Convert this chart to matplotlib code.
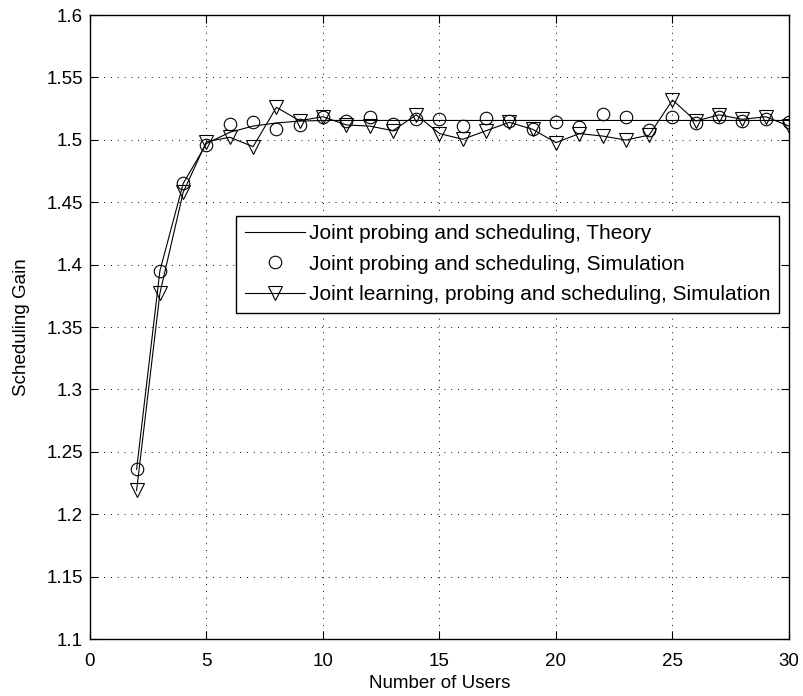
import matplotlib
matplotlib.use("Agg")
import matplotlib.pyplot as plt
from matplotlib.ticker import FuncFormatter

plt.rcParams['font.family'] = ['Liberation Sans', 'DejaVu Sans']

# number of users
users = list(range(2, 31))

# theory curve
theory = [1.236, 1.395, 1.465, 1.497, 1.506, 1.511, 1.5135, 1.515, 1.5155,
          1.5155, 1.5155, 1.5155, 1.5155, 1.5155, 1.5155, 1.5155, 1.5155,
          1.5155, 1.5155, 1.5155, 1.5155, 1.5155, 1.5155, 1.5155, 1.5155,
          1.5155, 1.5155, 1.5155, 1.5155]

# joint probing and scheduling, simulation (circles)
sim_probe = [1.236, 1.395, 1.465, 1.496, 1.513, 1.5145, 1.509, 1.512, 1.518,
             1.515, 1.5185, 1.5124, 1.5164, 1.5164, 1.5113, 1.5172, 1.5153,
             1.5087, 1.514, 1.5105, 1.5204, 1.5185, 1.5079, 1.5185, 1.5132,
             1.518, 1.5153, 1.517, 1.5145]

# joint learning, probing and scheduling, simulation (triangles)
sim_learn = [1.219, 1.377, 1.458, 1.4985, 1.502, 1.4945, 1.526, 1.5153, 1.5185,
             1.5119, 1.511, 1.5073, 1.520, 1.505, 1.5004, 1.5073, 1.514,
             1.5084, 1.4977, 1.505, 1.503, 1.4998, 1.5038, 1.5319, 1.515,
             1.520, 1.5164, 1.5185, 1.511]

xticks = [0, 5, 10, 15, 20, 25, 30]
yticks = [1.1, 1.15, 1.2, 1.25, 1.3, 1.35, 1.4, 1.45, 1.5, 1.55, 1.6]

fig = plt.figure(figsize=(8.04, 6.96), dpi=100)
ax = fig.add_axes([90 / 804, 57 / 696, 699 / 804, 624 / 696])

ax.plot(users, theory, color='black', lw=0.8,
        label='Joint probing and scheduling, Theory')
ax.plot(users, sim_probe, ls='none', marker='o', ms=9, mfc='none', mec='black',
        mew=0.8, label='Joint probing and scheduling, Simulation')
ax.plot(users, sim_learn, color='black', lw=0.8, marker='v', ms=10, mfc='none',
        mec='black', mew=0.8,
        label='Joint learning, probing and scheduling, Simulation')

ax.set_xlim(0, 30)
ax.set_ylim(1.1, 1.6)
ax.set_xticks(xticks)
ax.set_yticks(yticks)
ax.yaxis.set_major_formatter(FuncFormatter(lambda v, p: '%g' % round(v, 2)))
ax.tick_params(direction='in', top=True, right=True, length=6, width=0.8,
               labelsize=13.5, pad=5)
ax.tick_params(axis='x', pad=10)
for s in ax.spines.values():
    s.set_linewidth(1.0)
ax.grid(True, color='black', ls=(0, (1, 6)), lw=0.7)

ax.set_xlabel('Number of Users', fontsize=13.5, labelpad=4)
ax.set_ylabel('Scheduling Gain', fontsize=13.5, labelpad=12)

leg = ax.legend(loc='upper right', bbox_to_anchor=(0.986, 0.678), fontsize=15,
                frameon=True, fancybox=False, edgecolor='black', framealpha=1,
                handlelength=2.9, handletextpad=0.2, labelspacing=0.55,
                borderpad=0.4, borderaxespad=0)
leg.get_frame().set_linewidth(1.0)

fig.savefig('out.png', dpi=100)
